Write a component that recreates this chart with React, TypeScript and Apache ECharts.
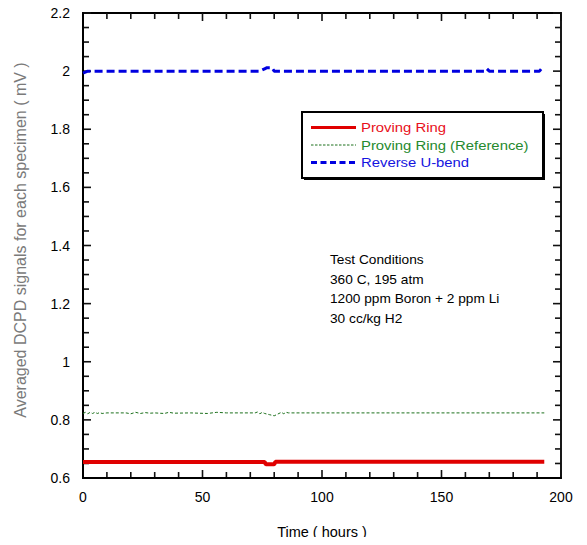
import React, { useEffect, useRef } from "react";
import * as echarts from "echarts";

const FONT = "Liberation Sans, Arial, sans-serif";

// ---- data ----
const provingRing: [number, number][] = [
  [0, 0.655], [20, 0.655], [40, 0.655], [60, 0.655], [76, 0.655],
  [76.5, 0.647], [80, 0.647], [80.5, 0.656], [100, 0.656], [120, 0.656],
  [150, 0.656], [175, 0.656], [193, 0.656],
];

const provingRingRef: [number, number][] = [
  [0, 0.822], [1, 0.826], [2, 0.821], [3, 0.826], [4, 0.822], [5, 0.826],
  [6, 0.822], [7, 0.825], [8, 0.822], [10, 0.824], [18, 0.824], [20, 0.821],
  [22, 0.826], [24, 0.822], [26, 0.825], [28, 0.823], [30, 0.824], [34, 0.822],
  [36, 0.826], [38, 0.823], [45, 0.824], [52, 0.822], [56, 0.826], [60, 0.824],
  [72, 0.824], [73, 0.827], [74, 0.821], [75, 0.826], [76, 0.822], [78, 0.818],
  [80, 0.814], [81, 0.818], [82, 0.822], [83, 0.826], [84, 0.821], [85, 0.826],
  [86, 0.824], [100, 0.824], [130, 0.824], [160, 0.824], [193, 0.824],
];

const reverseUBend: [number, number][] = [
  [0, 1.993], [1.5, 1.998], [2, 2.0], [74, 2.0], [75, 2.004], [76, 2.008],
  [77, 2.012], [79, 2.012], [80, 2.0], [168, 2.0], [169, 2.008], [170, 2.0],
  [191, 2.0], [192, 2.01], [193, 2.012],
];

const seriesNames = ["Proving Ring", "Proving Ring (Reference)", "Reverse U-bend"];
const seriesColors = ["#e00000", "#1c701c", "#0000e0"];
const legendTextColors = ["#e8101a", "#268a2e", "#1414e0"];

const conditionLines = [
  "Test Conditions",
  "360 C, 195 atm",
  "1200 ppm Boron + 2 ppm Li",
  "30 cc/kg H2",
];

const yAxisTitle = "Averaged DCPD signals for each specimen ( mV )";
const xAxisTitle = "Time ( hours )";

// axis ticks
const xMajorTicks = [0, 50, 100, 150, 200];
const xMinorTicks = [10, 20, 30, 40, 60, 70, 80, 90, 110, 120, 130, 140, 160, 170, 180, 190];
const yMajorTicks = [0.6, 0.8, 1.0, 1.2, 1.4, 1.6, 1.8, 2.0, 2.2];
const yMinorTicks = [0.65, 0.7, 0.75, 0.85, 0.9, 0.95, 1.05, 1.1, 1.15, 1.25, 1.3, 1.35,
  1.45, 1.5, 1.55, 1.65, 1.7, 1.75, 1.85, 1.9, 1.95, 2.05, 2.1, 2.15];

const X_MIN = 0, X_MAX = 200, Y_MIN = 0.6, Y_MAX = 2.2;
const GRID = { left: 83, right: 26, top: 13, bottom: 67 };
const W = 587, H = 545;

export default function App() {
  const ref = useRef<HTMLDivElement>(null);
  useEffect(() => {
    if (!ref.current) return;
    const chart = echarts.init(ref.current, undefined, { renderer: "svg" });

    chart.setOption({
      animation: false,
      backgroundColor: "#fff",
      textStyle: { fontFamily: FONT },
      grid: { ...GRID, show: true, borderColor: "#000", borderWidth: 1.8, backgroundColor: "transparent" },
      xAxis: {
        type: "value", min: X_MIN, max: X_MAX, interval: 50,
        name: xAxisTitle, nameLocation: "middle", nameGap: 46,
        nameTextStyle: { color: "#000", fontSize: 14.5, fontFamily: FONT },
        axisLabel: { color: "#000", fontSize: 14, margin: 12, fontFamily: FONT },
        axisLine: { show: true, onZero: false, lineStyle: { color: "#000", width: 2 } },
        axisTick: { show: false }, splitLine: { show: false },
      },
      yAxis: {
        type: "value", min: Y_MIN, max: Y_MAX, interval: 0.2,
        axisLabel: { color: "#000", fontSize: 14, margin: 13, fontFamily: FONT },
        axisLine: { show: true, lineStyle: { color: "#000", width: 2 } },
        axisTick: { show: false }, splitLine: { show: false },
      },
      series: [
        {
          name: seriesNames[0], type: "line", data: provingRing, symbol: "none", z: 10,
          color: seriesColors[0],
          lineStyle: { color: seriesColors[0], width: 4 },
        },
        {
          name: seriesNames[1], type: "line", data: provingRingRef, symbol: "none", z: 10,
          color: seriesColors[1],
          lineStyle: { color: seriesColors[1], width: 1, type: [3, 2] },
        },
        {
          name: seriesNames[2], type: "line", data: reverseUBend, symbol: "none", z: 10,
          color: seriesColors[2],
          lineStyle: { color: seriesColors[2], width: 3, type: [8, 4] },
        },
      ],
    });

    // ticks on all four sides, placed through the axes' own scales (filled rects)
    const finder = { xAxisIndex: 0, yAxisIndex: 0 };
    const fallback = (v: [number, number]) => [
      GRID.left + ((v[0] - X_MIN) / (X_MAX - X_MIN)) * (W - GRID.left - GRID.right),
      H - GRID.bottom - ((v[1] - Y_MIN) / (Y_MAX - Y_MIN)) * (H - GRID.top - GRID.bottom),
    ];
    const px = (v: [number, number]) => {
      const p = chart.convertToPixel(finder, v) as any;
      if (p && isFinite(p[0]) && isFinite(p[1])) return p as number[];
      return fallback(v);
    };
    const TW = 1.6;
    const tickEls: any[] = [];
    const mk = (x: number, y: number, width: number, height: number) => ({
      type: "rect", shape: { x, y, width, height }, style: { fill: "#111" },
    });
    const addX = (v: number, len: number) => {
      const b = px([v, Y_MIN]);
      const t = px([v, Y_MAX]);
      tickEls.push(mk(b[0] - TW / 2, b[1] - len, TW, len));
      tickEls.push(mk(t[0] - TW / 2, t[1], TW, len));
    };
    const addY = (v: number, len: number) => {
      const l = px([X_MIN, v]);
      const r = px([X_MAX, v]);
      tickEls.push(mk(l[0], l[1] - TW / 2, len, TW));
      tickEls.push(mk(r[0] - len, r[1] - TW / 2, len, TW));
    };
    xMajorTicks.forEach((v) => addX(v, 8));
    xMinorTicks.forEach((v) => addX(v, 6));
    yMajorTicks.forEach((v) => addY(v, 8));
    yMinorTicks.forEach((v) => addY(v, 6));

    const legendRowY = [127.5, 145, 162.5];
    const legendGraphics: any[] = [
      { type: "rect", shape: { x: 304, y: 114, width: 241, height: 66 }, style: { fill: "#000" }, z: 100 },
      { type: "rect", shape: { x: 302, y: 112, width: 241, height: 66 }, style: { fill: "#fff", stroke: "#000", lineWidth: 2 }, z: 101 },
      { type: "line", shape: { x1: 311, y1: legendRowY[0], x2: 356, y2: legendRowY[0] }, style: { stroke: seriesColors[0], lineWidth: 3 }, z: 102 },
      { type: "line", shape: { x1: 311, y1: legendRowY[1], x2: 356, y2: legendRowY[1] }, style: { stroke: seriesColors[1], lineWidth: 1, lineDash: [2.5, 1.5] }, z: 102 },
      { type: "line", shape: { x1: 311, y1: legendRowY[2], x2: 356, y2: legendRowY[2] }, style: { stroke: seriesColors[2], lineWidth: 3, lineDash: [6, 3.5] }, z: 102 },
      ...seriesNames.map((n, i) => ({
        type: "text", x: 361, y: legendRowY[i], scaleX: 1.1, z: 102,
        style: { text: n, fill: legendTextColors[i], fontSize: 13.5, fontFamily: FONT, verticalAlign: "middle", align: "left" },
      })),
    ];

    const condY = [260, 279.5, 299, 318.5];
    const condGraphics = conditionLines.map((t, i) => ({
      type: "text", x: 330, y: condY[i], scaleX: 1.07,
      style: { text: t, fill: "#000", fontSize: 12.8, fontFamily: FONT, verticalAlign: "middle", align: "left" },
    }));

    const yTitle = {
      type: "text", x: 20, y: 240, rotation: Math.PI / 2,
      style: { text: yAxisTitle, fill: "#7a7a7a", fontSize: 16, fontFamily: FONT, align: "center", verticalAlign: "middle" },
    };

    chart.setOption({ graphic: [...tickEls, yTitle, ...condGraphics, ...legendGraphics] });
    return () => chart.dispose();
  }, []);
  return <div ref={ref} style={{ width: W, height: H, margin: -8 }} />;
}
